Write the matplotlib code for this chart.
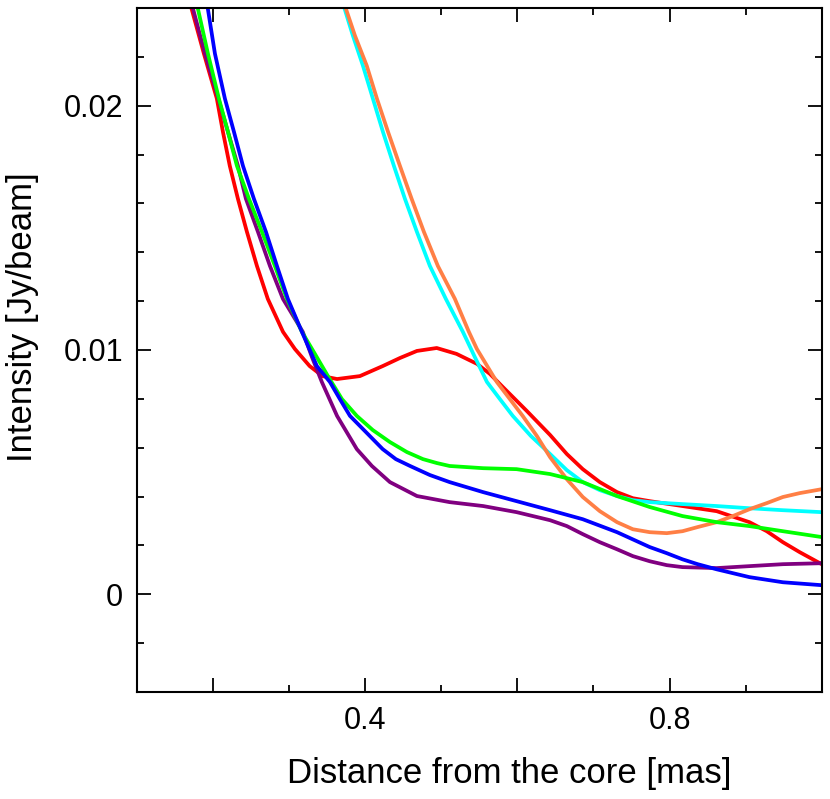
import numpy as np
import matplotlib
matplotlib.use("Agg")
import matplotlib.pyplot as plt
from matplotlib.ticker import MultipleLocator, FixedLocator, FixedFormatter

plt.rcParams['font.family'] = ['Liberation Sans', 'DejaVu Sans']

# Distance [mas], intensity [mJy/beam] (converted to Jy/beam below)
red_x = [0.168, 0.188, 0.205, 0.213, 0.222, 0.2327, 0.2445, 0.2577, 0.272, 0.292,
         0.3076, 0.327, 0.344, 0.363, 0.393, 0.423, 0.4456, 0.468, 0.494, 0.520,
         0.547, 0.5639, 0.581, 0.6125, 0.643, 0.665, 0.686, 0.7084, 0.731, 0.7518,
         0.774, 0.817, 0.862, 0.905, 0.9278, 0.949, 0.9712, 1.0]
red_y = [24.4, 22.13, 20.29, 18.93, 17.54, 16.19, 14.84, 13.44, 12.09, 10.74,
         10.04, 9.34, 8.93, 8.81, 8.93, 9.34, 9.67, 9.96, 10.08, 9.84,
         9.43, 9.02, 8.48, 7.50, 6.52, 5.74, 5.12, 4.59, 4.18, 3.93,
         3.81, 3.61, 3.40, 2.95, 2.58, 2.13, 1.72, 1.23]

purple_x = [0.170, 0.1894, 0.207, 0.2196, 0.2327, 0.2432, 0.259, 0.2748, 0.2919, 0.318,
            0.330, 0.343, 0.363, 0.389, 0.4088, 0.4325, 0.468, 0.511, 0.555, 0.599,
            0.643, 0.665, 0.686, 0.7084, 0.731, 0.7518, 0.774, 0.7964, 0.817, 0.862,
            0.905, 0.949, 1.0]
purple_y = [24.4, 22.13, 20.29, 18.93, 17.54, 16.19, 14.84, 13.44, 12.09, 10.74,
            9.71, 8.69, 7.30, 5.94, 5.25, 4.59, 4.02, 3.77, 3.61, 3.36,
            3.03, 2.79, 2.46, 2.13, 1.84, 1.56, 1.35, 1.19, 1.11, 1.07,
            1.15, 1.23, 1.27]

green_x = [0.177, 0.1933, 0.2077, 0.2196, 0.2314, 0.2472, 0.2643, 0.2813, 0.2971, 0.3168,
           0.3339, 0.351, 0.3694, 0.389, 0.410, 0.4325, 0.4548, 0.476, 0.4942, 0.511,
           0.555, 0.599, 0.643, 0.686, 0.731, 0.774, 0.817, 0.862, 0.905, 0.949, 1.0]
green_y = [24.4, 22.13, 20.29, 18.93, 17.54, 16.19, 14.84, 13.44, 12.09, 10.74,
           9.84, 8.93, 7.99, 7.30, 6.72, 6.23, 5.82, 5.53, 5.37, 5.25,
           5.16, 5.12, 4.92, 4.59, 4.02, 3.57, 3.20, 2.95, 2.79, 2.58, 2.34]

blue_x = [0.191, 0.2025, 0.2156, 0.2275, 0.2393, 0.2537, 0.2695, 0.284, 0.2984, 0.3168,
          0.3365, 0.3536, 0.3667, 0.380, 0.4009, 0.423, 0.4403, 0.459, 0.485, 0.511,
          0.555, 0.599, 0.643, 0.686, 0.731, 0.774, 0.7964, 0.817, 0.837, 0.862,
          0.905, 0.949, 1.0]
blue_y = [24.4, 22.13, 20.29, 18.93, 17.54, 16.19, 14.84, 13.44, 12.09, 10.74,
          9.34, 8.69, 7.99, 7.30, 6.64, 5.94, 5.53, 5.25, 4.88, 4.59,
          4.18, 3.81, 3.44, 3.07, 2.54, 1.93, 1.68, 1.43, 1.23, 1.02,
          0.70, 0.49, 0.37]

cyan_x = [0.3687, 0.3838, 0.397, 0.4101, 0.4233, 0.4377, 0.4522, 0.4679, 0.485, 0.506,
          0.5284, 0.5441, 0.560, 0.577, 0.594, 0.6177, 0.643, 0.665, 0.686, 0.7084,
          0.731, 0.7518, 0.774, 0.817, 0.862, 0.905, 0.949, 1.0]
cyan_y = [24.4, 22.87, 21.64, 20.29, 18.93, 17.54, 16.19, 14.84, 13.44, 12.09,
          10.74, 9.71, 8.69, 7.99, 7.30, 6.48, 5.74, 5.08, 4.59, 4.26,
          4.02, 3.85, 3.77, 3.69, 3.61, 3.52, 3.44, 3.36]

orange_x = [0.370, 0.3865, 0.402, 0.4154, 0.430, 0.4456, 0.461, 0.4771, 0.4955, 0.5179,
            0.5363, 0.5468, 0.573, 0.607, 0.6256, 0.643, 0.665, 0.686, 0.7084, 0.731,
            0.7518, 0.774, 0.7964, 0.817, 0.837, 0.862, 0.8832, 0.905, 0.9278, 0.949,
            0.9712, 1.0]
orange_y = [24.4, 22.87, 21.64, 20.29, 18.93, 17.54, 16.19, 14.84, 13.44, 12.09,
            10.74, 10.04, 8.69, 7.30, 6.48, 5.61, 4.71, 3.98, 3.40, 2.95,
            2.66, 2.54, 2.50, 2.58, 2.75, 2.95, 3.20, 3.48, 3.73, 3.98,
            4.14, 4.30]

series = [
    (red_x, red_y, '#ff0000'),
    (cyan_x, cyan_y, '#00ffff'),
    (orange_x, orange_y, '#ff7f45'),
    (purple_x, purple_y, '#800080'),
    (green_x, green_y, '#00ff00'),
    (blue_x, blue_y, '#0000ff'),
]

x_tick_labels = ['', '0.4', '', '0.8']
y_tick_labels = ['0', '0.01', '0.02']

fig = plt.figure(figsize=(8.30, 7.99), dpi=100)
ax = fig.add_axes([0.165, 0.134, 0.825, 0.856])

for xs, ys, c in series:
    ax.plot(xs, np.array(ys) / 1000.0, color=c, lw=2.7,
            solid_joinstyle='round', solid_capstyle='round')

ax.set_xlim(0.1, 1.0)
ax.set_ylim(-0.004, 0.024)

ax.xaxis.set_major_locator(FixedLocator([0.2, 0.4, 0.6, 0.8]))
ax.xaxis.set_major_formatter(FixedFormatter(x_tick_labels))
ax.xaxis.set_minor_locator(FixedLocator([0.3, 0.5, 0.7, 0.9]))
ax.yaxis.set_major_locator(FixedLocator([0.0, 0.01, 0.02]))
ax.yaxis.set_major_formatter(FixedFormatter(y_tick_labels))
ax.yaxis.set_minor_locator(MultipleLocator(0.002))

ax.tick_params(which='both', direction='in', top=True, right=True, width=1.3,
               labelsize=22)
ax.tick_params(which='major', length=10)
ax.tick_params(which='minor', length=5)
ax.tick_params(axis='y', which='major', pad=10)
ax.tick_params(axis='x', which='major', pad=10)

for s in ax.spines.values():
    s.set_linewidth(1.5)

ax.set_xlabel('Distance from the core [mas]', fontsize=25)
ax.set_ylabel('Intensity [Jy/beam]', fontsize=25)
ax.xaxis.set_label_coords(0.544, -0.095)
ax.yaxis.set_label_coords(-0.143, 0.548)

fig.savefig('out.png', dpi=100)
